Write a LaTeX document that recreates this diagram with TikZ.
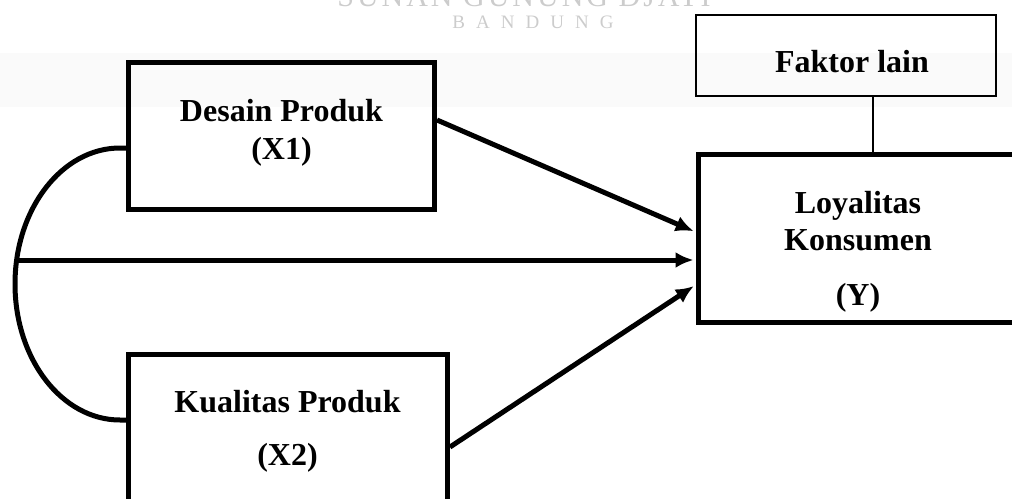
\documentclass[tikz,border=0pt]{standalone}
\usepackage{fontspec}
\setmainfont{Liberation Serif}
\usetikzlibrary{arrows.meta}
\begin{document}
\begin{tikzpicture}[x=1pt,y=-1pt,
  box/.style={draw=black,line width=5pt,minimum width=#1},
  thinbox/.style={draw=black,line width=2pt},
  lbl/.style={anchor=base,font=\bfseries\fontsize{32}{38}\selectfont,inner sep=0pt},
  conn/.style={line width=5pt},
  arr/.style={line width=5pt,-{Latex[length=18pt,width=16pt]},shorten >=2pt},
  wm/.style={text=black!20,inner sep=0pt,anchor=base}]
\useasboundingbox (0,0) rectangle (1012,498);
% faint background band
\fill[black!2] (0,53) rectangle (1012,107);
% watermark
\node[wm,font=\fontsize{30}{34}\selectfont\addfontfeature{LetterSpace=10}] (wm1) at (524,6) {SUNAN GUNUNG DJATI};
\node[wm,font=\fontsize{19}{22}\selectfont\addfontfeature{LetterSpace=58}] (wm2) at (533,28) {BANDUNG};
% boxes
\node[box=306pt,minimum height=147pt] (desain) at (281.5,136) {};
\node[box=319pt,minimum height=165pt] (kual) at (288,437) {};
\node[box=332pt,minimum height=168pt] (loyal) at (864,238.5) {};
\node[thinbox,minimum width=300pt,minimum height=81pt] (faktor) at (846,55.5) {};
% texts
\node[lbl] (t1) at (281.5,121) {Desain Produk};
\node[lbl] (t2) at (281.5,159) {(X1)};
\node[lbl] (t3) at (287.5,412) {Kualitas Produk};
\node[lbl] (t4) at (287.5,465) {(X2)};
\node[lbl] (t5) at (852,72) {Faktor lain};
\node[lbl] (t6) at (858,213) {Loyalitas};
\node[lbl] (t7) at (858,250) {Konsumen};
\node[lbl] (t8) at (858,305) {(Y)};
% connectors
\coordinate (fx) at (873,0);
\draw[line width=2pt] (faktor.south -| fx) -- (loyal.north -| fx);
\coordinate (c) at (16.6,260);
\draw[conn] ([yshift=-12pt]desain.west) -- (120,148)
  .. controls (62,148) and (15,208.9) .. (15,284)
  .. controls (15,359.1) and (62,420) .. (120,420)
  -- ([yshift=17pt]kual.west);
\draw[arr] ([yshift=16pt]desain.east) -- ([yshift=6.5pt]loyal.west);
\draw[arr] (c) -- ([yshift=-21.5pt]loyal.west);
\draw[arr] ([yshift=-10pt]kual.east) -- ([yshift=-46.5pt]loyal.west);
\end{tikzpicture}
\end{document}
